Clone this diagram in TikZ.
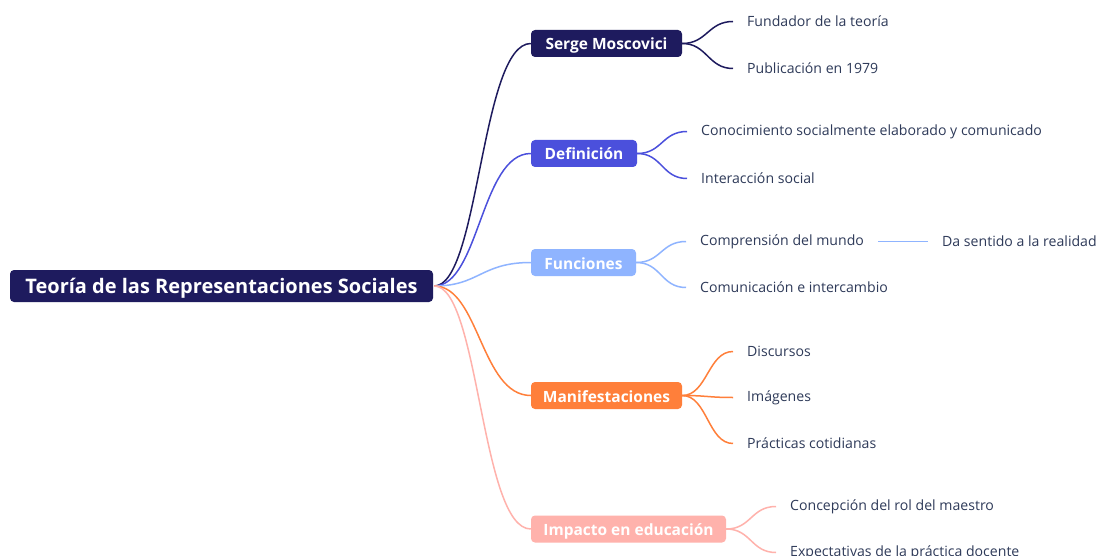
\documentclass[tikz,border=0pt]{standalone}
\usepackage{fontspec}
\setmainfont{Open Sans}
\definecolor{navy}{HTML}{1E1B5E}
\definecolor{defc}{HTML}{4B50DC}
\definecolor{func}{HTML}{8FB4FF}
\definecolor{mani}{HTML}{FF7F3A}
\definecolor{impa}{HTML}{FFB2AC}
\definecolor{leaftxt}{HTML}{2E3A59}
\tikzset{
  rootbox/.style={fill=navy, text=white, rounded corners=4pt, inner sep=0pt, font=\fontsize{20}{22}\selectfont\bfseries, minimum height=32pt, text height=14.6pt, text depth=0pt},
  branchbox/.style={fill=#1, text=white, rounded corners=4pt, inner sep=0pt, font=\fontsize{15.5}{17}\selectfont\bfseries, minimum height=27pt, text height=13pt, text depth=0pt},
  leaf/.style={anchor=west, inner sep=0pt, text=leaftxt, font=\fontsize{14.1}{16}\selectfont, yshift=-1.5pt},
  conn/.style={draw=#1, line width=1.5pt},
}
\begin{document}
\begin{tikzpicture}[x=1pt,y=-1pt]
\useasboundingbox (0,0) rectangle (1097,556);
\clip (0,0) rectangle (1097,556);
\fill[white] (0,0) rectangle (1097,556);
% root
\node[rootbox, minimum width=423pt] (root) at (221.5,286) {Teoría de las Representaciones Sociales};
% branches
\node[branchbox=navy, minimum width=151pt] (serge) at (606.5,43.5) {Serge Moscovici};
\node[branchbox=defc, minimum width=106pt] (defi) at (584,153.5) {Definición};
\node[branchbox=func, minimum width=105pt] (func) at (583.5,262.5) {Funciones};
\node[branchbox=mani, minimum width=151pt] (mani) at (606.5,395.5) {Manifestaciones};
\node[branchbox=impa, minimum width=195pt] (impa) at (628.5,529) {Impacto en educación};
% leaves
\node[leaf] (s1) at (747,20) {Fundador de la teoría};
\node[leaf] (s2) at (747,67) {Publicación en 1979};
\node[leaf] (d1) at (701,130) {Conocimiento socialmente elaborado y comunicado};
\node[leaf] (d2) at (701,177) {Interacción social};
\node[leaf] (f1) at (700,240) {Comprensión del mundo};
\node[leaf] (f2) at (700,286) {Comunicación e intercambio};
\node[leaf] (f3) at (942,240) {Da sentido a la realidad};
\node[leaf] (m1) at (747,350) {Discursos};
\node[leaf] (m2) at (747,396) {Imágenes};
\node[leaf] (m3) at (747,442) {Prácticas cotidianas};
\node[leaf] (i1) at (790,505) {Concepción del rol del maestro};
\node[leaf] (i2) at (790,551) {Expectativas de la práctica docente};
% root connectors
\foreach \b/\c in {serge/navy, defi/defc, func/func, mani/mani, impa/impa}{
  \draw[conn=\c] ([xshift=1pt]root.east) .. controls +(45,0) and +(-50,0) .. (\b.west);
}
% leaf connectors
\foreach \b/\l/\c in {serge/s1/navy, serge/s2/navy, defi/d1/defc, defi/d2/defc, func/f1/func, func/f2/func, mani/m1/mani, mani/m2/mani, mani/m3/mani, impa/i1/impa, impa/i2/impa}{
  \draw[conn=\c] (\b.east) .. controls +(25,0) and +(-25,0) .. ([xshift=-14pt]\l.west);
}
\draw[conn=func] ([xshift=14pt]f1.east) -- ([xshift=-14pt]f3.west);
\end{tikzpicture}
\end{document}
